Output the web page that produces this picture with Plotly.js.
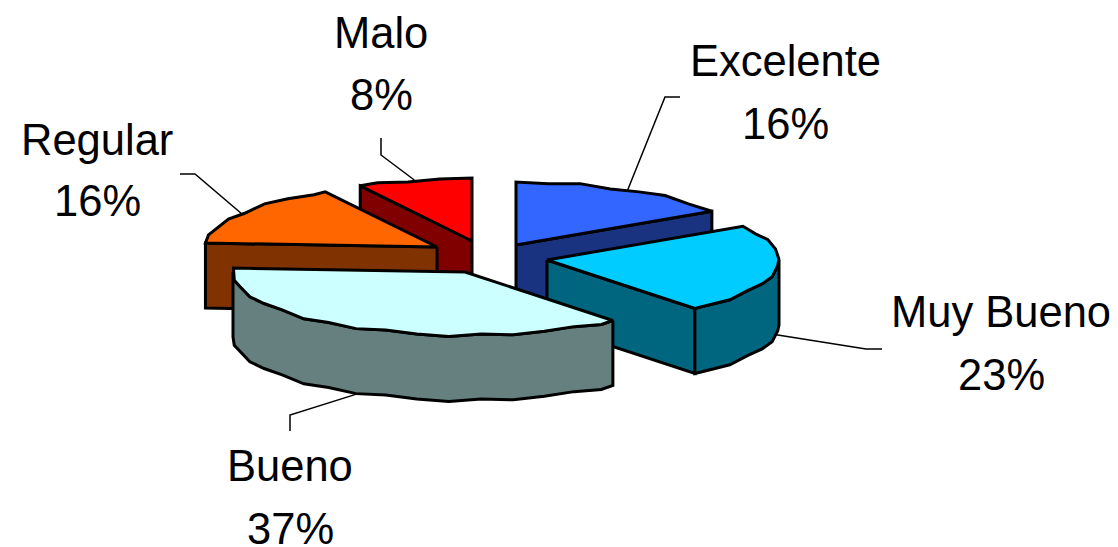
<!DOCTYPE html>
<html><head><meta charset="utf-8">
<script src="https://cdn.plot.ly/plotly-3.0.1.min.js"></script>
<style>html,body{margin:0;padding:0;background:#fff}#c{width:1118px;height:547px}</style>
</head><body><div id="c"></div>
<script>
// Data
const categories = ["Excelente", "Muy Bueno", "Bueno", "Regular", "Malo"];
const percents = [16, 23, 37, 16, 8];
// Styles
const topColors = ["#3366FF", "#00CCFF", "#CCFFFF", "#FF6600", "#FF0000"];
const wallColors = ["#1A3380", "#006680", "#668080", "#803300", "#800000"];
// Layout of the tilted pie (pixel-scaled axes)
const apexX = [516, 547, 465, 437, 472];
const apexY = [245, 260, 272, 247, 241];
const radiusX = 232, radiusY = 63, depth = 65;
const drawOrder = [4, 0, 3, 1, 2];
const leaderDepth = [0, 1, 1, 0, 0];
const elbowX = [665, 866, 290, 195, 381];
const elbowY = [97, 349, 415, 174, 155];
const endX = [680, 882, 290, 180, 381];
const endY = [97, 349, 431, 174, 138];
const labelX = [785, 1001, 290, 97, 381];
const labelY1 = [61, 312, 466, 140, 33];
const labelY2 = [124, 375, 529, 201, 95];
// The outline of the reference's rim is faceted and slightly uneven
const facetDegrees = 8;
const rimUneven = [0, 1.2, -0.8, 1.6, 0.3, -1.2, 1, -0.4, 1.5, -1];

const total = percents.reduce((a, b) => a + b, 0);
const starts = [];
let acc = 0;
percents.forEach(p => { starts.push(acc); acc += p / total * 360; });
const rad = d => d * Math.PI / 180;
const rimX = (i, a) => apexX[i] + radiusX * Math.sin(rad(a));
const rimY = (i, a) => apexY[i] - radiusY * Math.cos(rad(a));
function arc(i, a0, a1, dy) {
  const lo = Math.min(a0, a1), hi = Math.max(a0, a1);
  const angles = [lo];
  for (let f = Math.ceil(lo / facetDegrees + 0.3); f * facetDegrees < hi - 2; f++) angles.push(f * facetDegrees);
  angles.push(hi);
  if (a0 > a1) angles.reverse();
  const xs = [], ys = [];
  angles.forEach(a => {
    const isEnd = a === lo || a === hi;
    const u = isEnd ? 0 : rimUneven[Math.round(a / facetDegrees) % rimUneven.length];
    xs.push(rimX(i, a)); ys.push(rimY(i, a) + dy + u);
  });
  return [xs, ys];
}
function poly(xs, ys, fill) {
  return { type: "scatter", mode: "lines", x: xs.concat(xs[0]), y: ys.concat(ys[0]),
    fill: "toself", fillcolor: fill, line: { color: "#000", width: 3 }, hoverinfo: "skip", showlegend: false };
}
const traces = [];
drawOrder.forEach(i => {
  const a0 = starts[i], a1 = a0 + percents[i] / total * 360;
  const radial = a => {
    const rx = rimX(i, a), ry = rimY(i, a);
    return poly([apexX[i], rx, rx, apexX[i]], [apexY[i], ry, ry + depth, apexY[i] + depth], wallColors[i]);
  };
  if (Math.sin(rad(a0)) < -1e-6) traces.push(radial(a0));
  if (Math.sin(rad(a1)) > 1e-6) traces.push(radial(a1));
  const w0 = Math.max(a0, 90), w1 = Math.min(a1, 270);
  if (w1 > w0) {
    const [tx, ty] = arc(i, w0, w1, 0);
    const [bx, by] = arc(i, w1, w0, depth);
    traces.push(poly(tx.concat(bx), ty.concat(by), wallColors[i]));
  }
  const [ax, ay] = arc(i, a0, a1, 0);
  traces.push(poly([apexX[i]].concat(ax), [apexY[i]].concat(ay), topColors[i]));
});
categories.forEach((c, i) => {
  const mid = starts[i] + percents[i] / total * 180;
  traces.push({ type: "scatter", mode: "lines",
    x: [rimX(i, mid), elbowX[i], endX[i]],
    y: [rimY(i, mid) + leaderDepth[i] * depth, elbowY[i], endY[i]],
    line: { color: "#000", width: 1.5 }, hoverinfo: "skip", showlegend: false });
});
const font = { family: "Liberation Sans, Arial, sans-serif", size: 43.5, color: "#000" };
const annotations = [];
categories.forEach((c, i) => {
  annotations.push({ x: labelX[i], y: labelY1[i], xref: "x", yref: "y", text: c, showarrow: false, font });
  annotations.push({ x: labelX[i], y: labelY2[i], xref: "x", yref: "y", text: percents[i] + "%", showarrow: false, font });
});
const hidden = { visible: false, fixedrange: true };
Plotly.newPlot("c", traces, {
  width: 1118, height: 547, margin: { l: 0, r: 0, t: 0, b: 0 },
  paper_bgcolor: "#fff", plot_bgcolor: "#fff", showlegend: false,
  xaxis: Object.assign({ range: [0, 1118] }, hidden),
  yaxis: Object.assign({ range: [547, 0] }, hidden),
  annotations
}, { staticPlot: true, displayModeBar: false });
</script></body></html>
